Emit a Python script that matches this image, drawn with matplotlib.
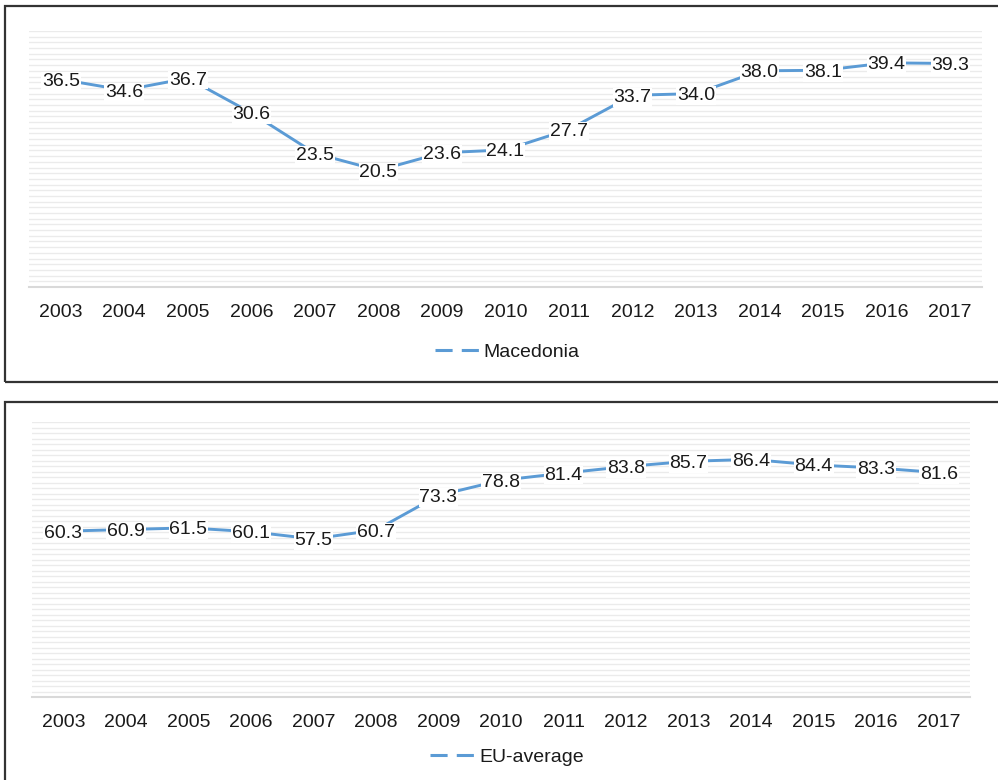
import matplotlib
matplotlib.use('Agg')
import matplotlib.pyplot as plt
import numpy as np
from matplotlib.lines import Line2D
from matplotlib.patches import Rectangle

plt.rcParams['font.family'] = ['Liberation Sans', 'DejaVu Sans']

years = ['2003', '2004', '2005', '2006', '2007', '2008', '2009', '2010',
         '2011', '2012', '2013', '2014', '2015', '2016', '2017']
macedonia = [36.5, 34.6, 36.7, 30.6, 23.5, 20.5, 23.6, 24.1,
             27.7, 33.7, 34.0, 38.0, 38.1, 39.4, 39.3]
eu_average = [60.3, 60.9, 61.5, 60.1, 57.5, 60.7, 73.3, 78.8,
              81.4, 83.8, 85.7, 86.4, 84.4, 83.3, 81.6]

blue = '#5B9BD5'
W, H = 998, 780

fig = plt.figure(figsize=(W / 100, H / 100), dpi=100)

# panel frames (pixel coords -> figure fraction)
def box(x0, y0, x1, y1):
    r = Rectangle((x0 / W, 1 - y1 / H), (x1 - x0) / W, (y1 - y0) / H,
                  transform=fig.transFigure, fill=False,
                  edgecolor='#333333', linewidth=1.6, clip_on=False)
    fig.patches.append(r)

box(5, 6, 1010, 382)
box(5, 402, 1010, 800)


def panel(rect, values, ymax, step, name, legend_y):
    l, t, r, b = rect
    ax = fig.add_axes([l / W, 1 - b / H, (r - l) / W, (b - t) / H])
    x = np.arange(len(years))
    ax.plot(x, values, color=blue, linewidth=2.1, solid_capstyle='round', zorder=2)
    for xi, v in zip(x, values):
        ax.text(xi, v, f'{v:.1f}', ha='center', va='center_baseline', fontsize=14,
                color='#1a1a1a', zorder=3,
                bbox=dict(facecolor='white', edgecolor='none', pad=0.5))
    ax.set_xlim(-0.5, len(years) - 0.5)
    ax.set_ylim(0, ymax)
    for gy in np.arange(step, ymax + 0.01, step):
        ax.axhline(gy, color='#ebebeb', linewidth=1.0, zorder=0)
    ax.axhline(0, color='#d9d9d9', linewidth=1.5, zorder=1, clip_on=False)
    ax.set_xticks(x)
    ax.set_xticklabels(years, fontsize=14, color='#1a1a1a')
    ax.set_yticks([])
    ax.tick_params(axis='x', length=0, pad=12)
    for s in ax.spines.values():
        s.set_visible(False)
    handle = Line2D([], [], color=blue, linewidth=2.2, linestyle=(0, (5.6, 3.0)))
    fig.legend([handle], [name], loc='center',
               bbox_to_anchor=(0.508, 1 - legend_y / H), frameon=False,
               fontsize=14, handlelength=2.4, handletextpad=0.1,
               labelcolor='#1a1a1a')
    return ax


panel((29, 31, 982, 287), macedonia, 45, 1, 'Macedonia', 352)
panel((32, 422, 970, 697), eu_average, 100, 2, 'EU-average', 757)

fig.savefig('out.png', dpi=100)
